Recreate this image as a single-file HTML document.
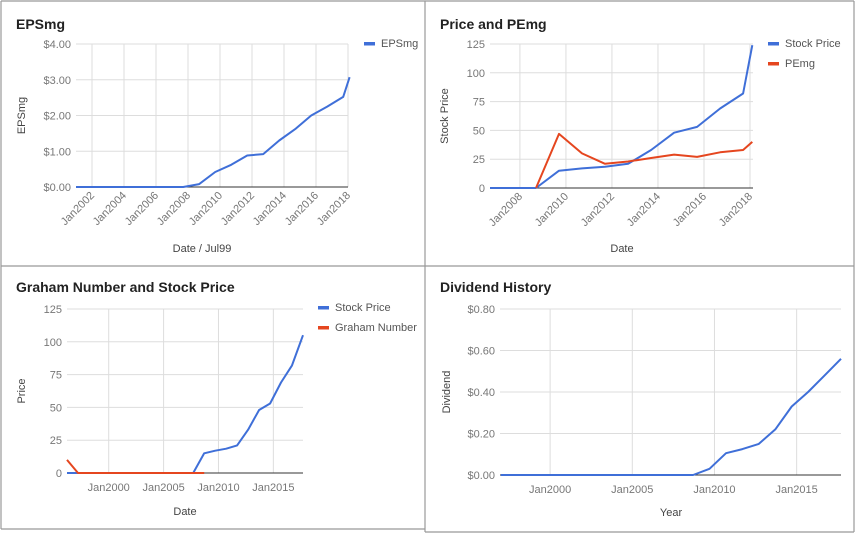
<!DOCTYPE html>
<html><head><meta charset="utf-8">
<style>
html,body{margin:0;padding:0;background:#fff;}
svg{display:block;font-family:"Liberation Sans",Arial,sans-serif;}
.tick{fill:#777;font-size:11px;}
.ttl{fill:#222;font-size:14px;font-weight:bold;}
.axt{fill:#444;font-size:11px;}
.leg{fill:#555;font-size:11px;}
.grid{stroke:#ddd;stroke-width:1;}
</style></head>
<body>
<svg id="s" width="856" height="536" viewBox="0 0 856 536">
<g stroke="#999" stroke-width="1.2" fill="none">
<line x1="1" y1="1" x2="854" y2="1"/><line x1="1" y1="1" x2="1" y2="529"/>
<line x1="425" y1="1" x2="425" y2="532"/><line x1="854" y1="1" x2="854" y2="532"/>
<line x1="1" y1="266" x2="854" y2="266"/><line x1="1" y1="529" x2="425" y2="529"/>
<line x1="425" y1="532" x2="854" y2="532"/>
</g>
</svg>
<script>
// ---- Chart 1: EPSmg ----
const epsYears = [2001,2007.7,2008.7,2009.7,2010.7,2011.7,2012.7,2013.7,2014.7,2015.7,2016.7,2017.7,2018.1];
const epsValues = [0,0,0.08,0.42,0.62,0.88,0.92,1.3,1.62,2.0,2.25,2.52,3.07];
const epsTicksY = ["$0.00","$1.00","$2.00","$3.00","$4.00"];
const epsTicksX = ["Jan2002","Jan2004","Jan2006","Jan2008","Jan2010","Jan2012","Jan2014","Jan2016","Jan2018"];
// ---- Chart 2: Price and PEmg ----
const pxYears = [2006.7,2008.7,2009.7,2010.7,2011.7,2012.7,2013.7,2014.7,2015.7,2016.7,2017.7,2018.1];
const pxPrice = [0,0,15,17,18.5,21,33,48,53,69,82,124];
const pxPE = [null,0,47,30,21,23,26,29,27,31,33,40];
const pxTicksY = ["0","25","50","75","100","125"];
const pxTicksX = ["Jan2008","Jan2010","Jan2012","Jan2014","Jan2016","Jan2018"];
// ---- Chart 3: Graham Number ----
const grYears = [1996.2,1997.2,2007.7,2008.7,2009.7,2010.7,2011.7,2012.7,2013.7,2014.7,2015.7,2016.7,2017.7];
const grPrice = [0,0,0,15,17,18.5,21,33,48,53,69,82,105];
const grGraham = [10,0,0,0,null,null,null,null,null,null,null,null,null];
const grTicksY = ["0","25","50","75","100","125"];
const grTicksX = ["Jan2000","Jan2005","Jan2010","Jan2015"];
// ---- Chart 4: Dividend ----
const dvYears = [1997,2008.7,2009.7,2010.7,2011.7,2012.7,2013.7,2014.7,2015.7,2016.7,2017.7];
const dvValues = [0,0,0.03,0.105,0.125,0.15,0.22,0.33,0.40,0.48,0.56];
const dvTicksY = ["$0.00","$0.20","$0.40","$0.60","$0.80"];
const dvTicksX = ["Jan2000","Jan2005","Jan2010","Jan2015"];

const NS="http://www.w3.org/2000/svg";
const svg=document.getElementById('s');
function mk(tag,attrs,parent){const e=document.createElementNS(NS,tag);for(const k in attrs)e.setAttribute(k,attrs[k]);(parent||svg).appendChild(e);return e;}
function parseTick(t){return parseFloat(t.replace('$',''));}
function tickYear(t){return parseInt(t.replace('Jan',''));}

function chart(cfg){
  const g=mk('g',{});
  
  
  const yMax=parseTick(cfg.ticksY[cfg.ticksY.length-1]);
  const xs=v=>cfg.x0+(v-cfg.d0)/(cfg.d1-cfg.d0)*(cfg.x1-cfg.x0);
  const ys=v=>cfg.y1-v/yMax*(cfg.y1-cfg.y0);
  const t=mk('text',{x:cfg.tx,y:cfg.ty,class:'ttl'},g);t.textContent=cfg.title;
  
  
  cfg.ticksY.forEach(lbl=>{
    const v=parseTick(lbl),y=ys(v);
    const l=mk('line',{x1:cfg.x0,x2:cfg.x1,y1:y,y2:y,class:'grid'},g);
    
    
    const tx=mk('text',{x:cfg.x0-5,y:y+4,class:'tick','text-anchor':'end'},g);tx.textContent=lbl;
    
    
  });
  cfg.ticksX.forEach(lbl=>{
    const x=xs(tickYear(lbl));
    const l=mk('line',{x1:x,x2:x,y1:cfg.y0,y2:cfg.y1,class:'grid'},g);
    
    
    let tx;
    if(cfg.rot){tx=mk('text',{x:x+3,y:cfg.y1+9,class:'tick','text-anchor':'end',transform:`rotate(-45 ${x+3} ${cfg.y1+9})`},g);}
    else{tx=mk('text',{x:x,y:cfg.y1+18,class:'tick','text-anchor':'middle'},g);}
    tx.textContent=lbl;
    
    
  });
  const base=mk('line',{x1:cfg.x0,x2:cfg.x1,y1:cfg.y1,y2:cfg.y1,stroke:'#333','stroke-width':1},g);
  
  
  cfg.series.forEach((s,si)=>{
    let d='',pen=false;
    cfg.years.forEach((yr,i)=>{const v=s.values[i];if(v===null){pen=false;return;}d+=(pen?'L':'M')+xs(yr).toFixed(1)+','+ys(v).toFixed(1);pen=true;});
    const p=mk('path',{d:d,fill:'none',stroke:s.color,'stroke-width':2,'stroke-linejoin':'round'},g);
    
    
    const ly=cfg.ly+si*20;
    const lm=mk('rect',{x:cfg.lx,y:ly-3,width:11,height:3.5,fill:s.color},g);
    
    
    const lt=mk('text',{x:cfg.lx+17,y:ly+2,class:'leg'},g);lt.textContent=s.label;
    
    
  });
  const xt=mk('text',{x:cfg.xtx,y:cfg.xty,class:'axt','text-anchor':'middle'},g);xt.textContent=cfg.xTitle;
  
  
  const ytx=cfg.ytX,yty=(cfg.y0+cfg.y1)/2;
  const yt=mk('text',{x:ytx,y:yty,class:'axt','text-anchor':'middle',transform:`rotate(-90 ${ytx} ${yty})`},g);yt.textContent=cfg.yTitle;
  
  
}
const BLUE='#3f6fd8',RED='#e5461f';
chart({name:'epsmg-chart',title:'EPSmg',tx:16,ty:29,x0:76,x1:348,y0:44,y1:187,d0:2001,d1:2018,
  ticksY:epsTicksY,ticksX:epsTicksX,rot:true,years:epsYears,
  series:[{key:'epsmg',label:'EPSmg',color:BLUE,values:epsValues}],
  lx:364,ly:45,xTitle:'Date / Jul99',xtx:202,xty:252,yTitle:'EPSmg',ytX:25});
chart({name:'price-pemg-chart',title:'Price and PEmg',tx:440,ty:29,x0:490,x1:753,y0:44,y1:188,d0:2006.7,d1:2018.13,
  ticksY:pxTicksY,ticksX:pxTicksX,rot:true,years:pxYears,
  series:[{key:'stock-price',label:'Stock Price',color:BLUE,values:pxPrice},{key:'pemg',label:'PEmg',color:RED,values:pxPE}],
  lx:768,ly:45,xTitle:'Date',xtx:622,xty:252,yTitle:'Stock Price',ytX:448});
chart({name:'graham-number-chart',title:'Graham Number and Stock Price',tx:16,ty:292,x0:67,x1:303,y0:309,y1:473,d0:1996.2,d1:2017.7,
  ticksY:grTicksY,ticksX:grTicksX,rot:false,years:grYears,
  series:[{key:'stock-price',label:'Stock Price',color:BLUE,values:grPrice},{key:'graham-number',label:'Graham Number',color:RED,values:grGraham}],
  lx:318,ly:309,xTitle:'Date',xtx:185,xty:515,yTitle:'Price',ytX:25});
chart({name:'dividend-history-chart',title:'Dividend History',tx:440,ty:292,x0:500,x1:841,y0:309,y1:475,d0:1996.95,d1:2017.7,
  ticksY:dvTicksY,ticksX:dvTicksX,rot:false,years:dvYears,
  series:[{key:'dividend',label:'',color:BLUE,values:dvValues}],
  lx:-100,ly:-100,xTitle:'Year',xtx:671,xty:516,yTitle:'Dividend',ytX:450});
</script>
</body></html>
